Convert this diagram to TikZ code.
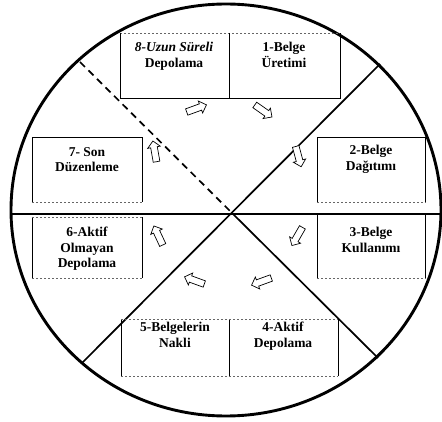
\documentclass[tikz,border=0pt]{standalone}
\usepackage{fontspec}
\setmainfont{Liberation Serif}
\usetikzlibrary{shapes.arrows}
\begin{document}
\begin{tikzpicture}[x=1pt,y=-1pt,
  lbl/.style={font=\bfseries\fontsize{13.5}{15.5}\selectfont, align=center, anchor=north, inner sep=0pt},
  cell/.style={draw=none, inner sep=0pt, anchor=north west},
  boxside/.style={line width=0.9pt},
  boxdot/.style={line width=0.7pt, black!60, dash pattern=on 1.5pt off 2.5pt},
  divider/.style={line width=1.7pt},
  rim/.style={line width=2.9pt},
  blk/.style={draw, fill=white, single arrow, minimum height=21pt,
    inner xsep=0pt, inner ysep=3pt, single arrow head extend=3pt, line width=0.7pt}
]
\useasboundingbox (0,0) rectangle (442,422);
\begin{scope}
  \clip (0,0) rectangle (442,422);
  \draw[rim] (226,210) ellipse [x radius=215, y radius=206];
\end{scope}

% dividing lines
\coordinate (C) at (232,213);
\coordinate (L) at (11,214);
\coordinate (R) at (441,214);
\coordinate (NE) at (380,64);
\coordinate (SW) at (82,363);
\coordinate (SE) at (378,358);
\coordinate (NW) at (80,62);
\draw[divider] (L) -- (R);
\draw[divider] (SW) -- (NE);
\draw[divider] (C) -- (SE);
\draw[divider, dash pattern=on 7pt off 5pt] (NW) -- (C);

% cells
\node[cell, minimum width=109pt, minimum height=65pt] (b8) at (120,33) {};
\node[cell, minimum width=111pt, minimum height=65pt] (b1) at (229,33) {};
\node[cell, minimum width=110pt, minimum height=65pt] (b7) at (32,137) {};
\node[cell, minimum width=110pt, minimum height=61pt] (b6) at (32,217) {};
\node[cell, minimum width=108pt, minimum height=65pt] (b2) at (317,137) {};
\node[cell, minimum width=108pt, minimum height=63pt] (b3) at (317,215) {};
\node[cell, minimum width=108pt, minimum height=57pt] (b5) at (121,319) {};
\node[cell, minimum width=109pt, minimum height=57pt] (b4) at (229,319) {};

% top pair
\draw[boxdot] (b8.north west) -- (b1.north east);
\draw[boxside] (b8.north west) -- (b8.south west) -- (b1.south east) -- (b1.north east);
\draw[boxside] (b8.north east) -- (b8.south east);
% left pair
\draw[boxside] (b7.south west) -- (b7.north west) -- (b7.north east) -- (b7.south east);
\draw[boxdot] (b7.south west) -- (b7.south east);
\draw[boxside] (b6.north west) -- (b6.south west);
\draw[boxside] (b6.north east) -- (b6.south east);
\draw[boxdot] (b6.north west) -- (b6.north east);
\draw[boxdot] (b6.south west) -- (b6.south east);
% right pair
\draw[boxside] (b2.south west) -- (b2.north west) -- (b2.north east) -- (b2.south east);
\draw[boxdot] (b2.south west) -- (b2.south east);
\draw[boxside] (b3.north west) -- (b3.south west);
\draw[boxside] (b3.north east) -- (b3.south east);
\draw[boxdot] (b3.south west) -- (b3.south east);
% bottom pair
\draw[boxside] (b5.north west) -- (b5.south west);
\draw[boxside] (b5.north east) -- (b5.south east);
\draw[boxside] (b4.north east) -- (b4.south east);
\draw[boxdot] (b5.north west) -- (b4.north east);
\draw[boxdot] (b5.south west) -- (b4.south east);

% labels
\node[lbl] (t8) at (174,42) {\textit{8-Uzun Süreli}\\Depolama};
\node[lbl] (t1) at (284,42) {1-Belge\\Üretimi};
\node[lbl] (t7) at (87,147) {7- Son\\Düzenleme};
\node[lbl] (t6) at (87,227) {6-Aktif\\Olmayan\\Depolama};
\node[lbl] (t2) at (371,145) {2-Belge\\Dağıtımı};
\node[lbl] (t3) at (371,227) {3-Belge\\Kullanımı};
\node[lbl] (t5) at (175,322) {5-Belgelerin\\Nakli};
\node[lbl] (t4) at (283,322) {4-Aktif\\Depolama};

% flow arrows
\node[blk, rotate=20] (a1) at (195,109) {};
\node[blk, rotate=-35] (a2) at (262,110) {};
\node[blk, rotate=-75] (a3) at (298,155) {};
\node[blk, rotate=-120] (a4) at (298,235) {};
\node[blk, rotate=-160] (a5) at (263,281) {};
\node[blk, rotate=160] (a6) at (196,281) {};
\node[blk, rotate=115] (a7) at (159,237) {};
\node[blk, rotate=100] (a8) at (155,153) {};
\end{tikzpicture}
\end{document}
